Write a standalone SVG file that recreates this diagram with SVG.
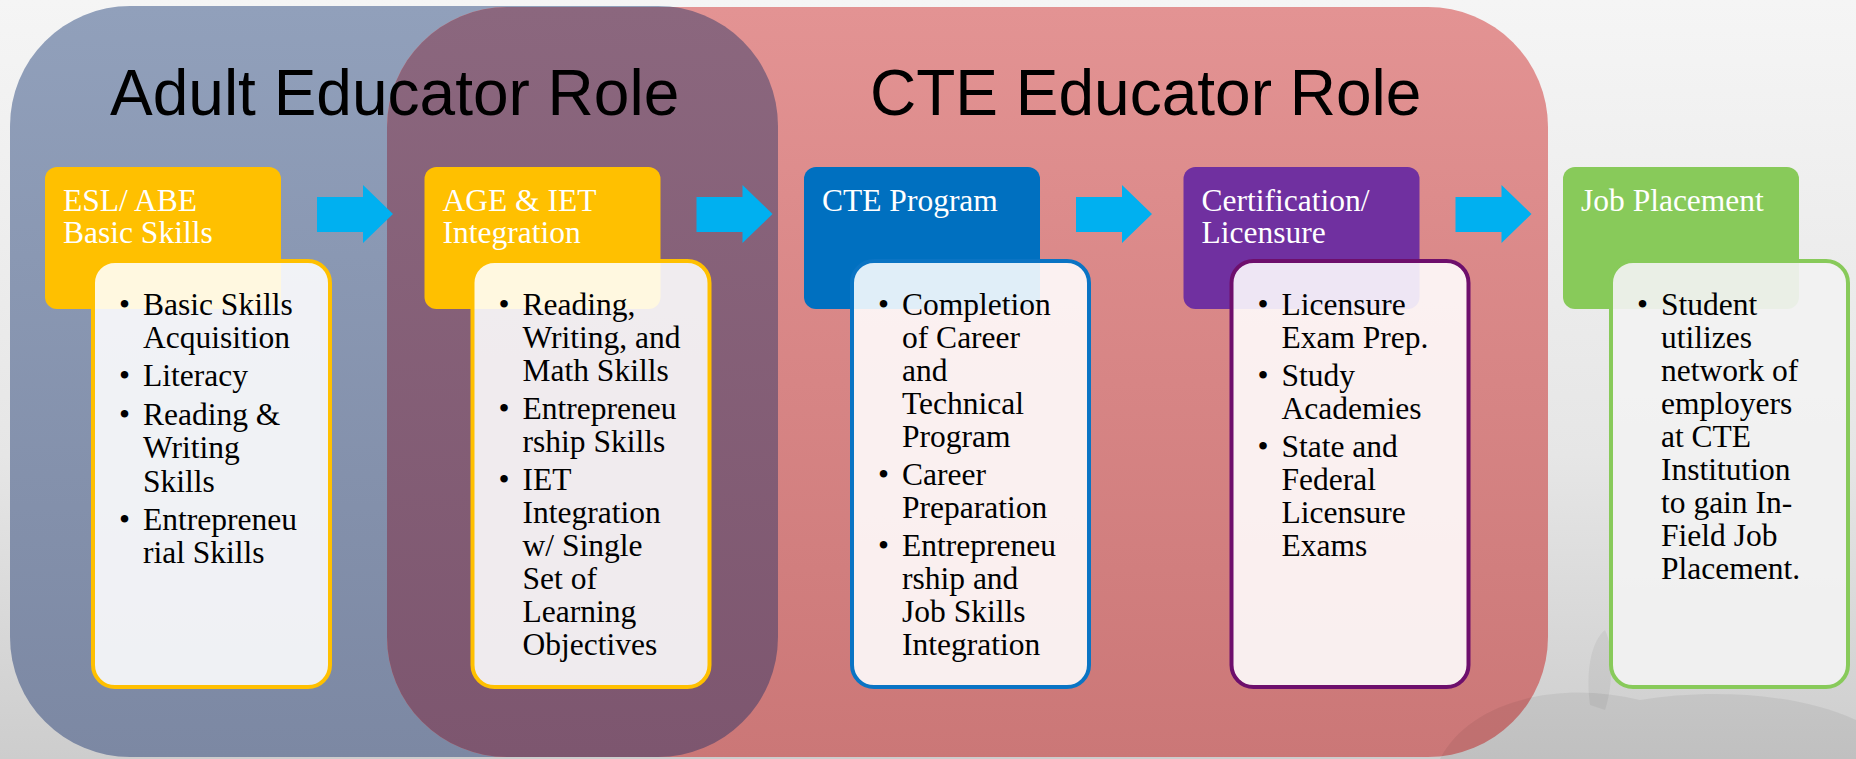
<svg xmlns="http://www.w3.org/2000/svg" width="1856" height="759" viewBox="0 0 1856 759">
<defs>
<linearGradient id="bg" x1="0" y1="0" x2="0" y2="1"><stop offset="0" stop-color="#F5F5F5"/><stop offset="0.6" stop-color="#E6E6E6"/><stop offset="1" stop-color="#CDCDCD"/></linearGradient>
<linearGradient id="gBlue" x1="0" y1="0" x2="0" y2="1"><stop offset="0" stop-color="#91A0BB"/><stop offset="1" stop-color="#7C88A3"/></linearGradient>
<linearGradient id="gRed" x1="0" y1="0" x2="0" y2="1"><stop offset="0" stop-color="#E39393"/><stop offset="1" stop-color="#CB7777"/></linearGradient>
<linearGradient id="gPur" x1="0" y1="0" x2="0" y2="1"><stop offset="0" stop-color="#8B677E"/><stop offset="1" stop-color="#7D566F"/></linearGradient>
<clipPath id="clipRed"><rect x="387" y="7" width="1161" height="750" rx="120" ry="120"/></clipPath>
<polygon id="arrow" points="0,197 46,197 46,185 76,214 46,243 46,232 0,232"/>
<style>
.title{font-family:"Liberation Sans",Arial,sans-serif;font-size:64px;fill:#000}
.hd{font-family:"Liberation Serif","Times New Roman",serif;font-size:31.5px;fill:#FFFFFF}
.tx{font-family:"Liberation Serif","Times New Roman",serif;font-size:31.5px;fill:#000}
.card{fill:#FFFFFF;fill-opacity:0.88;stroke-width:4}
.arr{fill:#00B0F0}
</style>
</defs>
<rect x="0" y="0" width="1856" height="759" fill="url(#bg)"/>
<g id="background-shapes">
<rect x="10" y="6" width="768" height="751" rx="120" ry="120" fill="url(#gBlue)"/>
<rect x="387" y="7" width="1161" height="750" rx="120" ry="120" fill="url(#gRed)"/>
<rect x="10" y="6" width="768" height="751" rx="120" ry="120" fill="url(#gPur)" clip-path="url(#clipRed)"/>
<path d="M1440,759 C1470,700 1560,680 1640,700 C1700,690 1790,690 1856,720 L1856,759 Z" fill="#000" fill-opacity="0.06"/>
<path d="M1590,705 C1585,670 1592,640 1605,630 C1615,650 1612,690 1605,710 Z" fill="#000" fill-opacity="0.05"/>
</g>
<g id="titles">
<text class="title" x="110" y="115">Adult Educator Role</text>
<text class="title" x="870" y="115">CTE Educator Role</text>
</g>
<g id="connectors">
<use href="#arrow" class="arr" x="317"/>
<use href="#arrow" class="arr" x="696.5"/>
<use href="#arrow" class="arr" x="1076"/>
<use href="#arrow" class="arr" x="1455.5"/>
</g>
<g id="node-esl-abe">
<rect x="45" y="167" width="236" height="142" rx="12" fill="#FFC000"/>
<text class="hd" x="63"><tspan x="63" y="211">ESL/ ABE</tspan><tspan x="63" y="243">Basic Skills</tspan></text>
<rect class="card" x="93" y="261" width="237" height="426" rx="22" stroke="#FFC000"/>
<text class="tx" transform="translate(0,3)">
<tspan x="119" y="312">•</tspan><tspan x="143" y="312">Basic Skills</tspan>
<tspan x="143" y="345">Acquisition</tspan>
<tspan x="119" y="383">•</tspan><tspan x="143" y="383">Literacy</tspan>
<tspan x="119" y="422">•</tspan><tspan x="143" y="422">Reading &amp;</tspan>
<tspan x="143" y="455">Writing</tspan>
<tspan x="143" y="489">Skills</tspan>
<tspan x="119" y="527">•</tspan><tspan x="143" y="527">Entrepreneu</tspan>
<tspan x="143" y="560">rial Skills</tspan>
</text>
</g>
<g id="node-age-iet">
<rect x="424.5" y="167" width="236" height="142" rx="12" fill="#FFC000"/>
<text class="hd"><tspan x="442.5" y="211">AGE &amp; IET</tspan><tspan x="442.5" y="243">Integration</tspan></text>
<rect class="card" x="472.5" y="261" width="237" height="426" rx="22" stroke="#FFC000"/>
<text class="tx" transform="translate(0,3)">
<tspan x="498.5" y="312">•</tspan><tspan x="522.5" y="312">Reading,</tspan>
<tspan x="522.5" y="345">Writing, and</tspan>
<tspan x="522.5" y="378">Math Skills</tspan>
<tspan x="498.5" y="416">•</tspan><tspan x="522.5" y="416">Entrepreneu</tspan>
<tspan x="522.5" y="449">rship Skills</tspan>
<tspan x="498.5" y="487">•</tspan><tspan x="522.5" y="487">IET</tspan>
<tspan x="522.5" y="520">Integration</tspan>
<tspan x="522.5" y="553">w/ Single</tspan>
<tspan x="522.5" y="586">Set of</tspan>
<tspan x="522.5" y="619">Learning</tspan>
<tspan x="522.5" y="652">Objectives</tspan>
</text>
</g>
<g id="node-cte-program">
<rect x="804" y="167" width="236" height="142" rx="12" fill="#0070C0"/>
<text class="hd"><tspan x="822" y="211">CTE Program</tspan></text>
<rect class="card" x="852" y="261" width="237" height="426" rx="22" stroke="#0A74C4"/>
<text class="tx" transform="translate(0,3)">
<tspan x="878" y="312">•</tspan><tspan x="902" y="312">Completion</tspan>
<tspan x="902" y="345">of Career</tspan>
<tspan x="902" y="378">and</tspan>
<tspan x="902" y="411">Technical</tspan>
<tspan x="902" y="444">Program</tspan>
<tspan x="878" y="482">•</tspan><tspan x="902" y="482">Career</tspan>
<tspan x="902" y="515">Preparation</tspan>
<tspan x="878" y="553">•</tspan><tspan x="902" y="553">Entrepreneu</tspan>
<tspan x="902" y="586">rship and</tspan>
<tspan x="902" y="619">Job Skills</tspan>
<tspan x="902" y="652">Integration</tspan>
</text>
</g>
<g id="node-certification">
<rect x="1183.5" y="167" width="236" height="142" rx="12" fill="#7030A0"/>
<text class="hd"><tspan x="1201.5" y="211">Certification/</tspan><tspan x="1201.5" y="243">Licensure</tspan></text>
<rect class="card" x="1231.5" y="261" width="237" height="426" rx="22" stroke="#6E0F6C"/>
<text class="tx" transform="translate(0,3)">
<tspan x="1257.5" y="312">•</tspan><tspan x="1281.5" y="312">Licensure</tspan>
<tspan x="1281.5" y="345">Exam Prep.</tspan>
<tspan x="1257.5" y="383">•</tspan><tspan x="1281.5" y="383">Study</tspan>
<tspan x="1281.5" y="416">Academies</tspan>
<tspan x="1257.5" y="454">•</tspan><tspan x="1281.5" y="454">State and</tspan>
<tspan x="1281.5" y="487">Federal</tspan>
<tspan x="1281.5" y="520">Licensure</tspan>
<tspan x="1281.5" y="553">Exams</tspan>
</text>
</g>
<g id="node-job-placement">
<rect x="1563" y="167" width="236" height="142" rx="12" fill="#88CA5A"/>
<text class="hd"><tspan x="1581" y="211">Job Placement</tspan></text>
<rect class="card" x="1611" y="261" width="237" height="426" rx="22" stroke="#88CA5A" style="fill:#F2F2F2;fill-opacity:0.92"/>
<text class="tx" transform="translate(0,3)">
<tspan x="1637" y="312">•</tspan><tspan x="1661" y="312">Student</tspan>
<tspan x="1661" y="345">utilizes</tspan>
<tspan x="1661" y="378">network of</tspan>
<tspan x="1661" y="411">employers</tspan>
<tspan x="1661" y="444">at CTE</tspan>
<tspan x="1661" y="477">Institution</tspan>
<tspan x="1661" y="510">to gain In-</tspan>
<tspan x="1661" y="543">Field Job</tspan>
<tspan x="1661" y="576">Placement.</tspan>
</text>
</g>
</svg>
